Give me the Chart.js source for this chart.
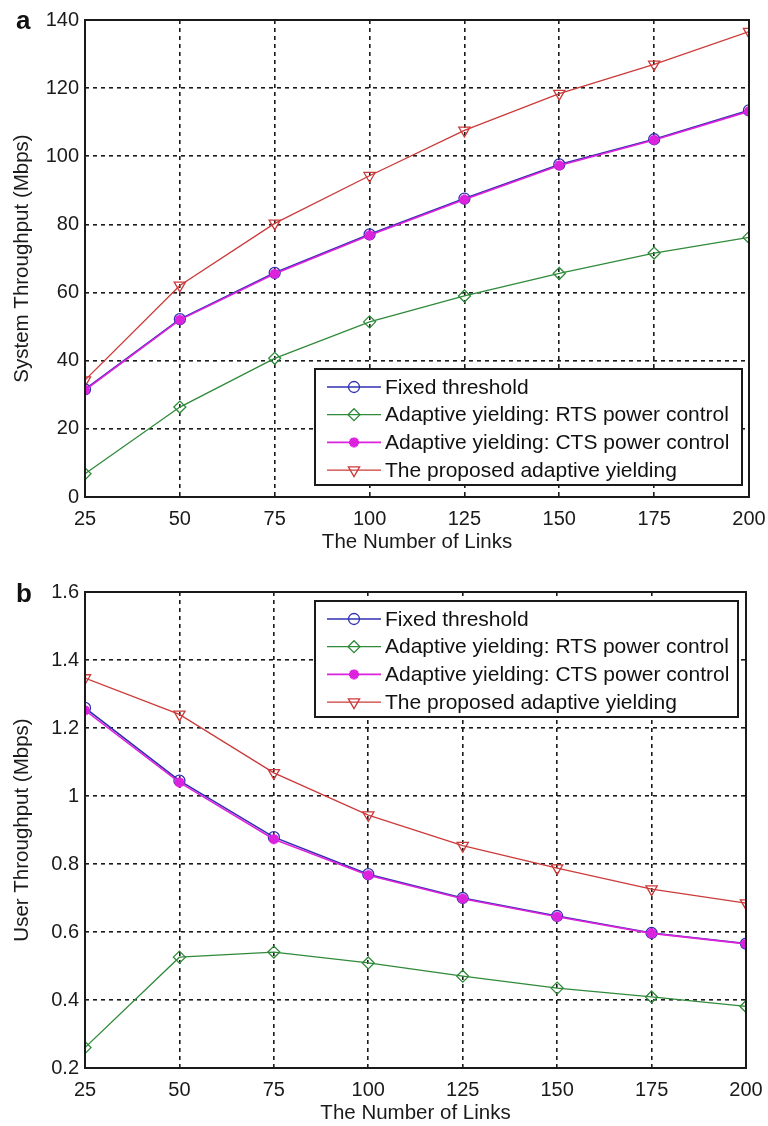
<!DOCTYPE html>
<html>
<head>
<meta charset="utf-8">
<script src="https://cdn.jsdelivr.net/npm/chart.js@4.4.0/dist/chart.umd.min.js"></script>
<style>
  body { margin: 0; background: #fff; width: 768px; height: 1126px; position: relative; overflow: hidden; }
  .panel { position: absolute; left: 0; width: 768px; }
  .tag { position: absolute; left: 16px; font: bold 26px "Liberation Sans", Arial, sans-serif; color: #111; }
</style>
</head>
<body>
<div class="panel" style="top:0"><canvas id="chartSystem" width="768" height="560"></canvas></div>
<div class="panel" style="top:560px"><canvas id="chartUser" width="768" height="566"></canvas></div>
<div class="tag" style="top:5px">a</div>
<div class="tag" style="top:578px">b</div>

<script>
// x values (number of links)
var links = [25, 50, 75, 100, 125, 150, 175, 200];

// (a) system throughput, Mbps
var sysFixed = [31.6, 52.2, 65.8, 77.1, 87.6, 97.6, 105.0, 113.5];
var sysRts = [6.8, 26.4, 40.7, 51.4, 59.0, 65.6, 71.6, 76.2];
var sysCts = [31.4, 52.0, 65.5, 76.8, 87.3, 97.3, 104.8, 113.2];
var sysProposed = [34.3, 62.1, 80.3, 94.3, 107.6, 118.4, 127.0, 136.6];

// (b) user throughput, Mbps
var userFixed = [1.259, 1.045, 0.879, 0.770, 0.700, 0.647, 0.597, 0.566];
var userRts = [0.260, 0.526, 0.541, 0.509, 0.470, 0.435, 0.409, 0.381];
var userCts = [1.252, 1.040, 0.873, 0.767, 0.698, 0.645, 0.596, 0.565];
var userProposed = [1.347, 1.240, 1.068, 0.944, 0.854, 0.788, 0.726, 0.685];

var seriesNames = [
    'Fixed threshold',
    'Adaptive yielding: RTS power control',
    'Adaptive yielding: CTS power control',
    'The proposed adaptive yielding'
];

var xTicks = [25, 50, 75, 100, 125, 150, 175, 200];
var yTicksSys = [0, 20, 40, 60, 80, 100, 120, 140];
var yTicksUser = [0.2, 0.4, 0.6, 0.8, 1, 1.2, 1.4, 1.6];

var FONT = '"Liberation Sans", Arial, sans-serif';

// marker / colour per series
var styles = [
    { color: '#3030b0', pointStyle: 'circle', radius: 5.5, rotation: 0, fill: 'rgba(0,0,0,0)', width: 1.6, order: 2 },
    { color: '#2f8a3a', pointStyle: 'rectRot', radius: 6, rotation: 0, fill: 'rgba(0,0,0,0)', width: 1.3, order: 3 },
    { color: '#dd22dd', pointStyle: 'star', radius: 5, rotation: 0, fill: '#dd22dd', width: 1.6, order: 1 },
    { color: '#cc3a3a', pointStyle: 'triangle', radius: 6.5, rotation: 180, fill: 'rgba(0,0,0,0)', width: 1.3, order: 4 }
];

function markerWidth(s) {
    return s.pointStyle === 'star' ? 3.2 : 1.3;
}

function makeDatasets(lists) {
    return lists.map(function (values, i) {
        var s = styles[i];
        return {
            label: seriesNames[i],
            data: values.map(function (v, k) { return { x: links[k], y: v }; }),
            borderColor: s.color,
            backgroundColor: s.fill,
            borderWidth: s.width,
            pointStyle: s.pointStyle,
            pointRotation: s.rotation,
            pointRadius: s.radius,
            pointBorderWidth: markerWidth(s),
            pointBorderColor: s.color,
            pointBackgroundColor: s.fill,
            tension: 0,
            order: s.order
        };
    });
}

// box round the plot area, like matlab
var frameBox = {
    id: 'frameBox',
    afterDraw: function (chart) {
        var a = chart.chartArea;
        var ctx = chart.ctx;
        ctx.save();
        ctx.strokeStyle = '#1a1a1a';
        ctx.lineWidth = 2;
        ctx.strokeRect(a.left, a.top, a.right - a.left, a.bottom - a.top);
        ctx.restore();
    }
};

// legend drawn inside the plot, sample line with marker in the middle
var boxLegend = {
    id: 'boxLegend',
    afterDraw: function (chart, args, opts) {
        var a = chart.chartArea;
        var ctx = chart.ctx;
        var w = opts.width, h = 116;
        var left = a.right - opts.right - w;
        var top = opts.top !== undefined ? a.top + opts.top : a.bottom - opts.bottom - h;
        ctx.save();
        ctx.fillStyle = '#fff';
        ctx.fillRect(left, top, w, h);
        ctx.strokeStyle = '#1a1a1a';
        ctx.lineWidth = 2;
        ctx.strokeRect(left, top, w, h);
        ctx.font = '21px ' + FONT;
        ctx.textBaseline = 'middle';
        chart.data.datasets.forEach(function (ds, i) {
            var y = top + 18 + i * 27.7;
            var s = styles[i];
            ctx.strokeStyle = s.color;
            ctx.lineWidth = s.width;
            ctx.beginPath();
            ctx.moveTo(left + 12, y);
            ctx.lineTo(left + 66, y);
            ctx.stroke();
            ctx.fillStyle = s.fill;
            ctx.lineWidth = markerWidth(s);
            Chart.helpers.drawPoint(ctx, {
                pointStyle: s.pointStyle, rotation: s.rotation, radius: s.radius, borderWidth: 1.3
            }, left + 39, y);
            ctx.fillStyle = '#111';
            ctx.fillText(ds.label, left + 70, y + 1);
        });
        ctx.restore();
    }
};

// lay: top of plot, height of x axis box, right overhang of last x label, gap under x title
function makeOptions(yMin, yMax, yTicks, yTitle, legendPos, lay) {
    return {
        responsive: false,
        animation: false,
        layout: { padding: { top: lay.top, right: 0, bottom: 0, left: 0 } },
        plugins: {
            legend: { display: false },
            tooltip: { enabled: false },
            boxLegend: legendPos
        },
        scales: {
            x: {
                type: 'linear',
                min: 25,
                max: 200,
                afterBuildTicks: function (axis) {
                    axis.ticks = xTicks.map(function (v) { return { value: v }; });
                },
                afterFit: function (axis) {
                    axis.height = lay.xHeight;
                    axis.paddingRight = lay.right;
                    axis.paddingLeft = 0;
                },
                grid: { color: '#1a1a1a', lineWidth: 1.6, drawTicks: false },
                border: { display: false, dash: [4, 4] },
                ticks: { color: '#1a1a1a', font: { family: FONT, size: 20 }, padding: 10, maxRotation: 0 },
                title: { display: true, text: 'The Number of Links', color: '#1a1a1a', font: { family: FONT, size: 20.5 }, padding: { top: 0, bottom: lay.titleGap } }
            },
            y: {
                min: yMin,
                max: yMax,
                afterBuildTicks: function (axis) {
                    axis.ticks = yTicks.map(function (v) { return { value: v }; });
                },
                afterFit: function (axis) {
                    axis.width = 85;
                    axis.paddingTop = 0;
                    axis.paddingBottom = 0;
                },
                grid: { color: '#1a1a1a', lineWidth: 1.6, drawTicks: false },
                border: { display: false, dash: [4, 4] },
                ticks: {
                    color: '#1a1a1a', font: { family: FONT, size: 20 }, padding: 6,
                    callback: function (v) { return String(Math.round(v * 10) / 10); }
                },
                title: { display: true, text: yTitle, color: '#1a1a1a', font: { family: FONT, size: 20.5 }, padding: { top: 10, bottom: 0 } }
            }
        }
    };
}

new Chart(document.getElementById('chartSystem').getContext('2d'), {
    type: 'line',
    data: { datasets: makeDatasets([sysFixed, sysRts, sysCts, sysProposed]) },
    options: makeOptions(0, 140, yTicksSys, 'System Throughput (Mbps)',
        { right: 7, bottom: 12, width: 427 }, { top: 20, xHeight: 63, right: 19, titleGap: 5 }),
    plugins: [frameBox, boxLegend]
});

new Chart(document.getElementById('chartUser').getContext('2d'), {
    type: 'line',
    data: { datasets: makeDatasets([userFixed, userRts, userCts, userProposed]) },
    options: makeOptions(0.2, 1.6, yTicksUser, 'User Throughput (Mbps)',
        { right: 8, top: 9, width: 423 }, { top: 32, xHeight: 58, right: 22, titleGap: 0 }),
    plugins: [frameBox, boxLegend]
});
</script>
</body>
</html>
